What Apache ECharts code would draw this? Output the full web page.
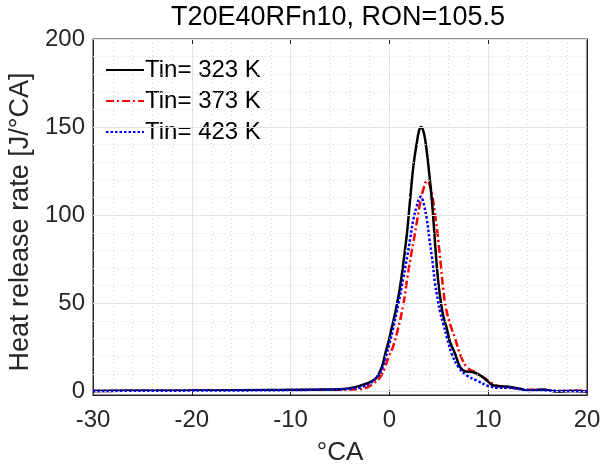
<!DOCTYPE html>
<html>
<head>
<meta charset="utf-8">
<script src="https://cdn.jsdelivr.net/npm/echarts@6/dist/echarts.min.js"></script>
<style>html,body{margin:0;padding:0;background:#fff}#c{width:601px;height:467px}</style>
</head>
<body>
<div id="c"></div>
<script>
var titleText = 'T20E40RFn10, RON=105.5';
var seriesNames = ['Tin= 323 K', 'Tin= 373 K', 'Tin= 423 K'];
var xTicks = [-30, -20, -10, 0, 10, 20];
var yTicks = [0, 50, 100, 150, 200];

var x323 = [-30,-25,-20,-15,-10,-7,-5,-4,-3,-1.96,-1.28,-0.77,-0.44,-0.1,0.15,0.6,0.95,1.25,1.55,1.8,2.1,2.43,2.77,3.0,3.21,3.42,3.62,3.95,4.29,4.55,4.7,4.95,5.2,5.45,5.8,6.15,6.66,7.16,7.67,8.51,9.19,9.87,10.54,11.9,13.24,14.08,15.44,16.96,18.64,20];
var y323 = [0.3,0.4,0.5,0.7,0.9,1.1,1.3,1.9,3.2,5.3,8.1,13.8,21,28,34,45,55,66,79,91,109,128,141,148,150,148,143,128,109,90,78,62,51,43,36,28,21.3,13.8,11.5,10.9,9.1,6.2,3.4,2.8,1.5,0.3,1.1,0,0.3,0];

var x373 = [-30,-25,-20,-15,-10,-7,-5,-4,-3,-2.46,-1.62,-0.94,-0.44,-0.1,0.34,0.85,1.42,1.82,2.27,2.43,2.77,3.11,3.45,3.79,4.12,4.46,4.73,4.96,5.2,5.45,5.7,6.15,6.66,7.16,7.84,8.68,9.52,10.2,11.2,12.4,13.9,15.3,17,18.6,20];
var y373 = [0.3,0.4,0.5,0.6,0.8,0.9,1,1.1,1.3,1.8,4.4,8.1,13.8,19.4,25,35,49.7,64.7,79.8,84.6,95.9,107,115,119.5,116.6,107,96,85,72,58,48,38,30,21,13.8,10.9,8.1,5.3,2.8,2.1,1,1,0.2,0.6,0.2];

var x423 = [-30,-25,-20,-15,-10,-7,-5,-4,-2.8,-1.8,-1.11,-0.68,-0.34,0,0.35,0.91,1.42,1.82,2.1,2.43,2.77,2.98,3.18,3.35,3.52,3.79,4.05,4.29,4.63,4.9,5.14,5.47,5.82,6.32,6.99,7.84,8.86,9.87,10.88,11.9,13,14,15.4,17,18.6,20];
var y423 = [0.3,0.4,0.5,0.6,0.8,1,1.2,1.6,2.4,5.3,9,13.8,20,27,35,49.7,64.7,77,86.5,97.8,105.3,109,110.6,109,105.3,97.8,86.5,77,61,52,45,38,30.7,21.3,13.8,9.1,6.2,3.4,2.1,2.1,1.5,0.8,0.8,0.3,0.3,0];

function pairs(xs, ys) { return xs.map(function (v, i) { return [v, ys[i]]; }); }

var yMinor = [];
for (var k = 1; k < yTicks.length; k++) {
  for (var m = 1; m < 5; m++) yMinor.push(yTicks[k - 1] + (yTicks[k] - yTicks[k - 1]) * m / 5);
}

var FONT = 'Liberation Sans, Arial, sans-serif';
var AX = '#262626';

var chart = echarts.init(document.getElementById('c'), null, {renderer: 'canvas'});
chart.setOption({
  animation: false,
  backgroundColor: '#fff',
  title: {
    text: titleText, left: 171, top: 4, padding: 0,
    textStyle: {fontFamily: FONT, fontSize: 27, fontWeight: 'normal', color: '#000'}
  },
  grid: {left: 93, right: 14, top: 39, bottom: 72, show: true, borderColor: AX, borderWidth: 1, backgroundColor: 'transparent', outerBoundsMode: 'none', containLabel: false},
  legend: {
    data: seriesNames, left: 100, top: 53, orient: 'vertical',
    itemWidth: 38, itemHeight: 14, itemGap: 7,
    textStyle: {fontFamily: FONT, fontSize: 24, color: '#000', lineHeight: 24, padding: [0, 0, 0, -4]},
    itemStyle: {opacity: 0},
    lineStyle: {width: 2}
  },
  xAxis: [{
    type: 'value', min: -30, max: 20, interval: 10,
    name: '°CA', nameLocation: 'middle', nameGap: 45,
    nameTextStyle: {fontFamily: FONT, fontSize: 26, color: AX},
    axisLine: {show: true, onZero: false, lineStyle: {color: AX, width: 1}},
    axisTick: {show: true, inside: true, length: 5, lineStyle: {color: AX}},
    axisLabel: {fontFamily: FONT, fontSize: 24, color: AX, margin: 13},
    splitLine: {show: true, lineStyle: {color: '#e3e3e3', width: 1}},
    minorTick: {show: false, splitNumber: 5},
    minorSplitLine: {show: true, lineStyle: {color: '#d8d8d8', width: 1, type: [1, 3]}}
  }, {
    type: 'value', position: 'top', min: -30, max: 20, interval: 10,
    axisLine: {show: true, onZero: false, lineStyle: {color: AX, width: 1}},
    axisTick: {show: true, inside: true, length: 5, lineStyle: {color: AX}},
    axisLabel: {show: false}, splitLine: {show: false}
  }],
  yAxis: [{
    type: 'value', min: -2, max: 200,
    name: 'Heat release rate [J/°CA]', nameLocation: 'middle', nameGap: 53,
    nameTextStyle: {fontFamily: FONT, fontSize: 27, color: AX, padding: [0, 10, 0, 0]},
    axisLine: {show: true, onZero: false, lineStyle: {color: AX, width: 1}},
    axisTick: {show: true, inside: true, length: 5, lineStyle: {color: AX}, customValues: yTicks},
    axisLabel: {fontFamily: FONT, fontSize: 24, color: AX, margin: 8, padding: [3, 0, 0, 0], customValues: yTicks},
    splitLine: {show: false}
  }, {
    type: 'value', position: 'right', min: -2, max: 200,
    axisLine: {show: true, onZero: false, lineStyle: {color: AX, width: 1}},
    axisTick: {show: true, inside: true, length: 5, lineStyle: {color: AX}, customValues: yTicks},
    axisLabel: {show: false, customValues: yTicks}, splitLine: {show: false}
  }],
  series: [
    {
      name: 'gridY', type: 'line', data: [], silent: true, z: 1,
      markLine: {
        silent: true, symbol: ['none', 'none'], label: {show: false}, animation: false,
        data: yMinor.map(function (v) { return {yAxis: v, lineStyle: {color: '#d8d8d8', width: 1, type: [1, 3]}}; })
          .concat(yTicks.map(function (v) { return {yAxis: v, lineStyle: {color: '#e3e3e3', width: 1, type: 'solid'}}; }))
      }
    },
    {
      name: seriesNames[0], type: 'line', data: pairs(x323, y323), smooth: 0.4, symbol: 'none', z: 4,
      lineStyle: {color: '#000', width: 2.5, type: 'solid'}, itemStyle: {color: '#000'}
    },
    {
      name: seriesNames[1], type: 'line', data: pairs(x373, y373), smooth: 0.4, symbol: 'none', z: 3,
      lineStyle: {color: '#ff0000', width: 2.5, type: [8, 3, 2, 3]}, itemStyle: {color: '#ff0000'}
    },
    {
      name: seriesNames[2], type: 'line', data: pairs(x423, y423), smooth: 0.4, symbol: 'none', z: 5,
      lineStyle: {color: '#0000ff', width: 2.5, type: [2.5, 2]}, itemStyle: {color: '#0000ff'}
    }
  ]
});
</script>
</body>
</html>
